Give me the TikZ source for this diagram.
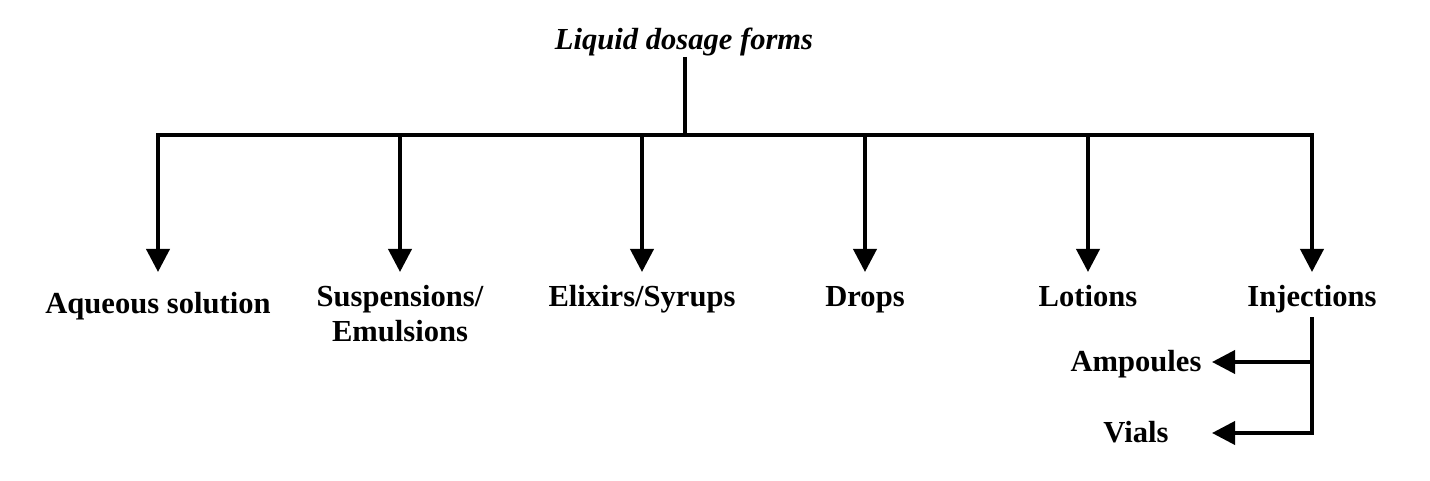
\documentclass[tikz,border=0pt]{standalone}
\usepackage{fontspec}
\setmainfont{Liberation Serif}
\usetikzlibrary{arrows.meta,positioning,calc}

\begin{document}
\begin{tikzpicture}[
  form/.style={
    inner sep=2pt,
    align=center,
    anchor=base,
    font=\fontsize{17.4pt}{20pt}\selectfont\bfseries
  },
  edge/.style={line width=2.2pt},
  arr/.style={edge, -{Triangle[width=0.46cm,length=0.46cm]}}
]
\useasboundingbox (0,0) rectangle (28.6,-9.62);

\node[form, inner sep=0pt, font=\fontsize{17.4pt}{20pt}\selectfont\bfseries\itshape] (root) at (13.68,-1.00) {Liquid dosage forms};

\coordinate (bar) at (13.70,-2.70);
\coordinate (tip) at (13.70,-5.44);

\node[form] (a1) at (3.16,-6.28) {Aqueous solution};
\node[form] (a2) at (8.00,-6.84) {Suspensions/\\ Emulsions};
\node[form] (a3) at (12.84,-6.14) {Elixirs/Syrups};
\node[form] (a4) at (17.30,-6.14) {Drops};
\node[form] (a5) at (21.76,-6.14) {Lotions};
\node[form] (a6) at (26.24,-6.14) {Injections};

\node[form] (b1) at (22.72,-7.44) {Ampoules};
\node[form] (b2) at (22.72,-8.86) {Vials};

\coordinate (b1end) at (24.24,-7.24);
\coordinate (b2end) at (24.24,-8.66);

\draw[edge] (root.south -| bar) -- (bar);
\draw[edge, line cap=rect] (a1 |- bar) -- (a6 |- bar);

\draw[arr] (a1 |- bar) -- (a1 |- tip);
\draw[arr] (a2 |- bar) -- (a2 |- tip);
\draw[arr] (a3 |- bar) -- (a3 |- tip);
\draw[arr] (a4 |- bar) -- (a4 |- tip);
\draw[arr] (a5 |- bar) -- (a5 |- tip);
\draw[arr] (a6 |- bar) -- (a6 |- tip);

\draw[arr] (a6.south |- b1end) -- (b1end);
\draw[arr] (a6.south) |- (b2end);

\end{tikzpicture}
\end{document}
